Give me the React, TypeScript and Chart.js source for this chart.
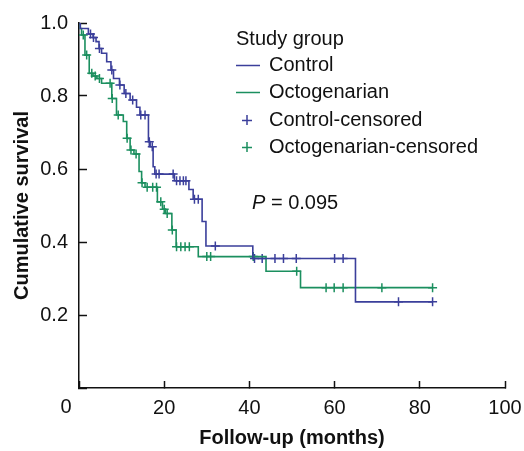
import { useEffect, useRef } from 'react';
import { Chart, registerables } from 'chart.js';

Chart.register(...registerables);

// ---- data ----
const controlTimes = [0, 0.3, 2.2, 3.3, 4.0, 4.7, 5.3, 6.5, 7.5, 8.1, 9.5, 10.6, 12.0, 13.5, 14.3, 16.3, 16.7, 17.4, 17.8, 22.4, 25.8, 26.8, 28.9, 29.8, 40.8, 64.9, 83.0];
const controlSurvival = [1.0, 0.985, 0.97, 0.96, 0.949, 0.93, 0.917, 0.894, 0.871, 0.848, 0.83, 0.807, 0.789, 0.769, 0.748, 0.675, 0.661, 0.606, 0.586, 0.568, 0.544, 0.517, 0.456, 0.389, 0.355, 0.236, 0.236];
const controlCensored = [2.7, 3.4, 4.8, 7.7, 9.6, 11.0, 12.6, 14.5, 15.5, 16.5, 17.2, 18.1, 18.8, 22.1, 22.9, 23.7, 24.5, 25.1, 27.1, 28.0, 32.0, 41.2, 43.0, 46.0, 48.0, 51.0, 60.0, 62.0, 75.0, 83.0];

const octoTimes = [0, 0.3, 0.6, 1.4, 2.4, 3.3, 4.2, 5.3, 7.7, 8.8, 10.4, 11.2, 12.0, 12.9, 14.1, 14.7, 15.5, 18.4, 19.6, 20.3, 21.8, 22.8, 28.0, 43.9, 52.0, 83.0];
const octoSurvival = [1.0, 0.985, 0.967, 0.912, 0.862, 0.855, 0.848, 0.835, 0.793, 0.748, 0.73, 0.684, 0.652, 0.641, 0.593, 0.562, 0.55, 0.51, 0.49, 0.478, 0.433, 0.387, 0.36, 0.32, 0.275, 0.275];
const octoCensored = [1.0, 1.8, 3.0, 3.8, 4.8, 7.3, 7.8, 9.2, 11.3, 12.2, 13.4, 14.8, 16.0, 17.3, 18.2, 19.2, 20.0, 20.7, 21.9, 22.9, 23.9, 24.9, 25.9, 30.0, 30.9, 40.9, 51.1, 58.0, 59.9, 62.0, 71.1, 83.0];

const xTickValues = [0, 20, 40, 60, 80, 100];
const yTickValues = [0, 0.2, 0.4, 0.6, 0.8, 1.0];
const legendTitle = 'Study group';
const legendLabels = ['Control', 'Octogenarian', 'Control-censored', 'Octogenarian-censored'];
const pValueText = '= 0.095';

const BLUE = '#3b3f9b';
const GREEN = '#1b8f5f';
const FONT = '"Liberation Sans", Arial, sans-serif';

function survivalAt(times: number[], surv: number[], t: number) {
  let s = surv[0];
  for (let i = 0; i < times.length; i++) {
    if (times[i] <= t) s = surv[i];
  }
  return s;
}

const decorPlugin = {
  id: 'decor',
  afterDraw(chart: any) {
    const { ctx, chartArea } = chart;
    ctx.save();
    ctx.setLineDash([]);

    // origin label
    ctx.fillStyle = '#111';
    ctx.font = `20px ${FONT}`;
    ctx.textAlign = 'center';
    ctx.textBaseline = 'middle';
    ctx.fillText('0', chartArea.left - 13, chartArea.bottom + 19);

    // legend
    const lx = 236;
    ctx.textAlign = 'left';
    ctx.fillText(legendTitle, lx, 39);
    const rows = [65, 92, 120, 147];
    const colors = [BLUE, GREEN, BLUE, GREEN];
    rows.forEach((ry, i) => {
      ctx.strokeStyle = colors[i];
      ctx.lineWidth = 1.5;
      ctx.beginPath();
      if (i < 2) {
        ctx.moveTo(lx, ry + 0.5);
        ctx.lineTo(lx + 24, ry + 0.5);
      } else {
        ctx.moveTo(lx + 6, ry + 0.5);
        ctx.lineTo(lx + 16, ry + 0.5);
        ctx.moveTo(lx + 11, ry - 5);
        ctx.lineTo(lx + 11, ry + 5);
      }
      ctx.stroke();
      ctx.fillStyle = '#111';
      ctx.fillText(legendLabels[i], 269, ry);
    });

    // P value
    ctx.font = `italic 20px ${FONT}`;
    ctx.fillText('P', 252, 203);
    const pw = ctx.measureText('P ').width;
    ctx.font = `20px ${FONT}`;
    ctx.fillText(pValueText, 252 + pw, 203);
    ctx.restore();
  },
};

export default function App() {
  const ref = useRef<HTMLCanvasElement | null>(null);
  useEffect(() => {
    if (!ref.current) return;
    const controlLine = controlTimes.map((t, i) => ({ x: t, y: controlSurvival[i] }));
    const octoLine = octoTimes.map((t, i) => ({ x: t, y: octoSurvival[i] }));
    const controlMarks = controlCensored.map((t) => ({ x: t, y: survivalAt(controlTimes, controlSurvival, t) }));
    const octoMarks = octoCensored.map((t) => ({ x: t, y: survivalAt(octoTimes, octoSurvival, t) }));

    const chart = new Chart(ref.current, {
      type: 'line',
      data: {
        datasets: [
          { label: 'Control', data: controlLine, borderColor: BLUE, borderWidth: 1.6, pointRadius: 0, stepped: 'before', fill: false },
          { label: 'Octogenarian', data: octoLine, borderColor: GREEN, borderWidth: 1.6, pointRadius: 0, stepped: 'before', fill: false },
          { label: 'Control-censored', data: controlMarks, showLine: false, pointStyle: 'cross', pointRadius: 4.5, pointBorderWidth: 1.5, pointBorderColor: BLUE, borderColor: BLUE },
          { label: 'Octogenarian-censored', data: octoMarks, showLine: false, pointStyle: 'cross', pointRadius: 4.5, pointBorderWidth: 1.5, pointBorderColor: GREEN, borderColor: GREEN },
        ],
      },
      options: {
        animation: false,
        responsive: false,
        layout: { padding: { top: 23, right: 19, left: 0, bottom: 0 } },
        plugins: { legend: { display: false }, tooltip: { enabled: false } },
        scales: {
          x: {
            type: 'linear',
            min: 0,
            max: 100,
            afterBuildTicks: (scale: any) => { scale.ticks = xTickValues.map((v) => ({ value: v })); },
            afterFit: (scale: any) => {
              scale.height = 63;
              scale.paddingLeft = 0;
              scale.paddingRight = 0;
            },
            grid: { display: true, drawOnChartArea: false, drawTicks: true, tickLength: -7, tickWidth: 1.5, tickColor: '#111' },
            border: { display: true, color: '#111', width: 1.5 },
            ticks: {
              color: '#111',
              font: { family: FONT, size: 20 },
              padding: 15,
              maxRotation: 0,
              autoSkip: false,
              callback: (v: any) => (v === 0 ? '' : String(v)),
            },
            title: {
              display: true,
              text: 'Follow-up (months)',
              color: '#111',
              font: { family: FONT, size: 20, weight: 'bold' },
              padding: { top: 0, bottom: 1 },
            },
          },
          y: {
            type: 'linear',
            min: 0,
            max: 1,
            afterBuildTicks: (scale: any) => { scale.ticks = yTickValues.map((v) => ({ value: v })); },
            afterFit: (scale: any) => {
              scale.width = 79;
              scale.paddingTop = 0;
              scale.paddingBottom = 0;
            },
            grid: { display: true, drawOnChartArea: false, drawTicks: true, tickLength: -8, tickWidth: 1.5, tickColor: '#111' },
            border: { display: true, color: '#111', width: 1.5 },
            ticks: {
              color: '#111',
              font: { family: FONT, size: 20 },
              padding: 19,
              autoSkip: false,
              callback: (v: any) => (v === 0 ? '' : Number(v).toFixed(1)),
            },
            title: {
              display: true,
              text: 'Cumulative survival',
              color: '#111',
              font: { family: FONT, size: 20, weight: 'bold' },
              padding: { top: 10, bottom: 0 },
            },
          },
        },
      },
      plugins: [decorPlugin],
    } as any);
    return () => chart.destroy();
  }, []);

  return (
    <div style={{ position: 'absolute', left: 0, top: 0, width: 524, height: 451 }}>
      <canvas ref={ref} width={524} height={451} style={{ display: 'block', width: 524, height: 451 }} />
    </div>
  );
}
